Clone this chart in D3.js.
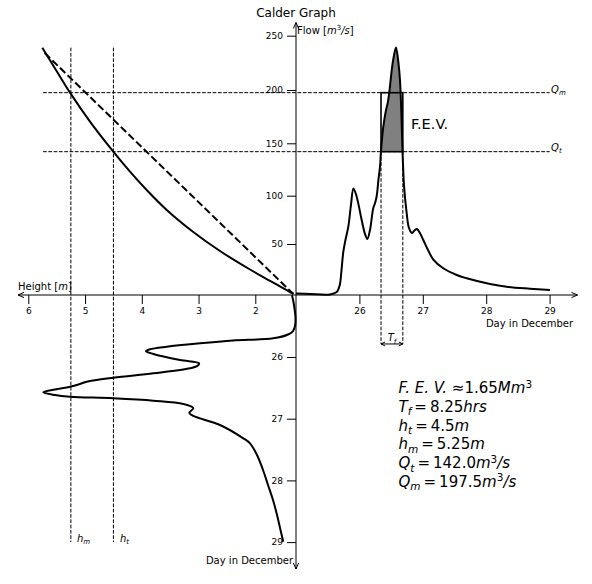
<!DOCTYPE html>
<html><head><meta charset="utf-8">
<script src="https://cdn.jsdelivr.net/npm/d3@7"></script>
<style>
html,body{margin:0;padding:0;background:#fff;}
svg{display:block;font-family:"DejaVu Sans",sans-serif;}
</style></head><body>
<svg id="c" width="592" height="584"></svg>
<script>
// ---------- data ----------
const hydroDay = [25.0, 25.22, 25.536, 25.642, 25.67, 25.694, 25.718, 25.746, 25.78, 25.825, 25.867, 25.906, 25.957, 26.036, 26.088, 26.125, 26.167, 26.219, 26.246, 26.273, 26.30, 26.325, 26.341, 26.377, 26.42, 26.443, 26.472, 26.51, 26.538, 26.577, 26.614, 26.64, 26.66, 26.677, 26.688, 26.703, 26.746, 26.782, 26.83, 26.87, 26.908, 26.956, 27.008, 27.082, 27.166, 27.323, 27.535, 27.692, 28.06, 28.323, 28.69, 29.006];
const hydroFlow = [1.5, 1.0, 0.5, 2.9, 5.9, 10.8, 24.5, 42.2, 54.1, 67.9, 90.4, 106.9, 99.0, 74.8, 60.4, 55.2, 64.5, 87.3, 92.1, 99.7, 115.0, 127.7, 142.9, 165.6, 181.2, 186.9, 198.1, 218.4, 229.5, 239.2, 225.8, 209.2, 181.2, 147.5, 129.5, 110.2, 81.7, 66.6, 61.4, 64.0, 65.6, 61.1, 54.1, 44.1, 34.8, 26.2, 19.6, 16.4, 10.8, 8.1, 6.2, 4.9];

const ratingH = [5.753, 5.512, 5.265, 4.913, 4.502, 4.208, 3.914, 3.561, 3.093, 2.622, 2.093, 1.741, 1.389, 1.327];
const ratingQ = [238.9, 218.4, 197.5, 170.3, 142.0, 122.9, 105.4, 85.2, 62.4, 43.1, 25.0, 13.9, 2.9, 1.2];

const ratingLineH = [5.71, 1.33];
const ratingLineQ = [234, 1.0];

const stageDay = [25.0, 25.157, 25.368, 25.498, 25.579, 25.635, 25.697, 25.733, 25.778, 25.833, 25.875, 25.906, 25.951, 26.049, 26.102, 26.138, 26.183, 26.264, 26.335, 26.40, 26.438, 26.481, 26.527, 26.572, 26.616, 26.643, 26.669, 26.708, 26.762, 26.831, 26.903, 26.956, 27.102, 27.318, 27.399, 27.588, 27.831, 28.074, 28.318, 28.561, 28.804, 28.994];
const stageH = [1.353, 1.318, 1.292, 1.30, 1.336, 1.424, 1.683, 2.393, 2.974, 3.561, 3.856, 3.926, 3.797, 3.327, 2.992, 3.01, 3.151, 3.797, 4.502, 4.971, 5.089, 5.265, 5.53, 5.736, 5.53, 5.265, 4.502, 3.797, 3.269, 3.092, 3.163, 3.092, 2.622, 2.211, 2.093, 1.970, 1.864, 1.776, 1.688, 1.617, 1.556, 1.507];

const flowTicks = [50, 100, 150, 200, 250];
const dayTicks = [26, 27, 28, 29];
const heightTicks = [2, 3, 4, 5, 6];

const Qt = 142.0, Qm = 197.5, ht = 4.5, hm = 5.25;
const tStart = 26.341, TfHours = 8.25;
const tfArrowFlow = -48;
const dayEnd = 29.0, hMax = 5.74, qMax = 239;

// ---------- scales ----------
const xDay = d3.scaleLinear().domain([25, 29]).range([296, 549.6]);
const yFlow = d3.scaleLinear().domain([0, 50, 100, 150, 200, 250]).range([295, 244, 195.7, 143.3, 90, 35.7]);
const xHeight = d3.scaleLinear().domain([2, 6]).range([255.3, 28.3]);
const yDay = d3.scaleLinear().domain([25, 29]).range([295.3, 542.1]);

const svg = d3.select('#c');
const ox = xDay(25), oy = yFlow(0);
const curve = d3.curveCatmullRom.alpha(0.5);

const hydro = hydroDay.map((d, i) => ({d, q: hydroFlow[i]}));
const rating = ratingH.map((h, i) => ({h, q: ratingQ[i]}));
const ratingLine = ratingLineH.map((h, i) => ({h, q: ratingLineQ[i]}));
const stage = stageDay.map((d, i) => ({d, h: stageH[i]}));

const tEnd = tStart + TfHours / 24;

// ---------- FEV fill ----------
svg.append('clipPath').attr('id', 'aboveQt').append('rect')
  .attr('x', 0).attr('y', 0).attr('width', 592).attr('height', yFlow(Qt));
svg.append('path').datum(hydro)
  .attr('clip-path', 'url(#aboveQt)')
  .attr('fill', '#808080')
  .attr('d', d3.area().x(p => xDay(p.d)).y0(yFlow(Qt)).y1(p => yFlow(p.q)).curve(curve));

// ---------- dashed guide lines ----------
const thinDash = '3.7,1.6';
function dline(x1, y1, x2, y2) {
  svg.append('line').attr('x1', x1).attr('y1', y1).attr('x2', x2).attr('y2', y2)
    .attr('stroke', '#000').attr('stroke-width', 1).attr('stroke-dasharray', thinDash);
}
dline(xHeight(hMax), yFlow(Qm), xDay(dayEnd), yFlow(Qm));
dline(xHeight(hMax), yFlow(Qt), xDay(dayEnd), yFlow(Qt));
dline(xHeight(hm), yFlow(qMax), xHeight(hm), yDay(dayEnd));
dline(xHeight(ht), yFlow(qMax), xHeight(ht), yDay(dayEnd));
dline(xDay(tStart), yFlow(Qt), xDay(tStart), yFlow(tfArrowFlow));
dline(xDay(tEnd), yFlow(Qt), xDay(tEnd), yFlow(tfArrowFlow));

// FEV rectangle
svg.append('rect')
  .attr('x', xDay(tStart)).attr('y', yFlow(Qm))
  .attr('width', xDay(tEnd) - xDay(tStart)).attr('height', yFlow(Qt) - yFlow(Qm))
  .attr('fill', 'none').attr('stroke', '#000').attr('stroke-width', 1.6);

// ---------- curves ----------
svg.append('path').datum(ratingLine)
  .attr('fill', 'none').attr('stroke', '#000').attr('stroke-width', 2).attr('stroke-dasharray', '7.4,3.2')
  .attr('d', d3.line().x(p => xHeight(p.h)).y(p => yFlow(p.q)));
svg.append('path').datum(rating)
  .attr('fill', 'none').attr('stroke', '#000').attr('stroke-width', 2)
  .attr('d', d3.line().x(p => xHeight(p.h)).y(p => yFlow(p.q)).curve(curve));
svg.append('path').datum(hydro)
  .attr('fill', 'none').attr('stroke', '#000').attr('stroke-width', 2).attr('stroke-linejoin', 'round')
  .attr('d', d3.line().x(p => xDay(p.d)).y(p => yFlow(p.q)).curve(curve));
svg.append('path').datum(stage)
  .attr('fill', 'none').attr('stroke', '#000').attr('stroke-width', 2).attr('stroke-linejoin', 'round')
  .attr('d', d3.line().x(p => xHeight(p.h)).y(p => yDay(p.d)).curve(curve));

// ---------- axes ----------
function styleAxis(g) {
  g.select('.domain').remove();
  g.selectAll('.tick line').attr('stroke', '#000').attr('stroke-width', 1);
  g.selectAll('.tick text').attr('fill', '#000').attr('font-size', 9).attr('font-family', '"DejaVu Sans",sans-serif');
  g.attr('font-family', null).attr('font-size', null);
}
svg.append('g').attr('transform', `translate(0,${oy})`)
  .call(d3.axisBottom(xDay).tickValues(dayTicks).tickSize(9).tickPadding(4).tickFormat(d3.format('d'))).call(styleAxis);
svg.append('g').attr('transform', `translate(0,${oy})`)
  .call(d3.axisBottom(xHeight).tickValues(heightTicks).tickSize(9).tickPadding(4).tickFormat(d3.format('d'))).call(styleAxis);
svg.append('g').attr('transform', `translate(${ox},0)`)
  .call(d3.axisLeft(yFlow).tickValues(flowTicks).tickSize(9).tickPadding(4).tickFormat(d3.format('d'))).call(styleAxis);
svg.append('g').attr('transform', `translate(${ox},0)`)
  .call(d3.axisLeft(yDay).tickValues(dayTicks).tickSize(9).tickPadding(4).tickFormat(d3.format('d'))).call(styleAxis);

// main axis lines with arrows
const axL = 18, axR = 577.5, axT = 22.5, axB = 569;
svg.append('line').attr('x1', axL).attr('y1', oy).attr('x2', axR).attr('y2', oy).attr('stroke', '#000').attr('stroke-width', 1);
svg.append('line').attr('x1', ox).attr('y1', axT).attr('x2', ox).attr('y2', axB).attr('stroke', '#000').attr('stroke-width', 1);
function chevron(x, y, dx, dy, len, w) {
  const px = -dy, py = dx;
  svg.append('path')
    .attr('d', `M${x - dx * len + px * w},${y - dy * len + py * w}L${x},${y}L${x - dx * len - px * w},${y - dy * len - py * w}`)
    .attr('fill', 'none').attr('stroke', '#000').attr('stroke-width', 1);
}
chevron(axR, oy, 1, 0, 6, 2.6);
chevron(axL, oy, -1, 0, 6, 2.6);
chevron(ox, axT, 0, -1, 6, 2.6);
chevron(ox, axB, 0, 1, 6, 2.6);

// Tf arrow
const ay = yFlow(tfArrowFlow);
svg.append('line').attr('x1', xDay(tStart)).attr('y1', ay).attr('x2', xDay(tEnd)).attr('y2', ay).attr('stroke', '#000').attr('stroke-width', 1);
chevron(xDay(tStart), ay, -1, 0, 4, 2);
chevron(xDay(tEnd), ay, 1, 0, 4, 2);

// ---------- text ----------
function mtext(x, y, size, parts, anchor) {
  const t = svg.append('text').attr('x', x).attr('y', y).attr('font-size', size)
    .attr('text-anchor', anchor || 'start').attr('fill', '#000');
  let cur = 0;
  parts.forEach(p => {
    const off = p.sub ? size * 0.22 : p.sup ? -size * 0.38 : 0;
    const ts = t.append('tspan').text(p.s);
    if (off !== cur) { ts.attr('dy', off - cur); cur = off; }
    if (p.i) ts.attr('font-style', 'italic');
    if (p.sub || p.sup) ts.attr('font-size', size * 0.7);
    if (p.dx) ts.attr('dx', p.dx);
  });
  return t;
}

svg.append('text').attr('x', 296).attr('y', 17).attr('text-anchor', 'middle').attr('font-size', 12).text('Calder Graph');
mtext(297, 34, 10, [{s: 'Flow ['}, {s: 'm', i: 1}, {s: '3', sup: 1}, {s: '/', i: 1}, {s: 's', i: 1}, {s: ']'}]);
mtext(18, 290, 10, [{s: 'Height ['}, {s: 'm', i: 1}, {s: ']'}]);
svg.append('text').attr('x', 573).attr('y', 326.5).attr('text-anchor', 'end').attr('font-size', 10).text('Day in December');
svg.append('text').attr('x', 293).attr('y', 563.5).attr('text-anchor', 'end').attr('font-size', 10).text('Day in December');

mtext(551, 92.5, 10, [{s: 'Q', i: 1}, {s: 'm', i: 1, sub: 1}]);
mtext(551, 150.5, 10, [{s: 'Q', i: 1}, {s: 't', i: 1, sub: 1}]);
mtext(77, 541.5, 10, [{s: 'h', i: 1}, {s: 'm', i: 1, sub: 1}]);
mtext(120, 541.5, 10, [{s: 'h', i: 1}, {s: 't', i: 1, sub: 1}]);
mtext((xDay(tStart) + xDay(tEnd)) / 2, ay - 2.5, 10, [{s: 'T', i: 1}, {s: 'f', i: 1, sub: 1}], 'middle');

svg.append('text').attr('x', 411).attr('y', 128.5).attr('font-size', 14.5).text('F.E.V.');

const th = '\u2009';
const fs = 15, lx = 398.5;
mtext(lx, 393.3, fs, [{s: 'F. E. V. ', i: 1}, {s: '\u2248'}, {s: '1.65'}, {s: 'Mm', i: 1}, {s: '3', sup: 1}]);
mtext(lx, 412, fs, [{s: 'T', i: 1}, {s: 'f', i: 1, sub: 1}, {s: th + '=' + th}, {s: '8.25'}, {s: 'hrs', i: 1}]);
mtext(lx, 430.7, fs, [{s: 'h', i: 1}, {s: 't', i: 1, sub: 1}, {s: th + '=' + th}, {s: '4.5'}, {s: 'm', i: 1}]);
mtext(lx, 449.3, fs, [{s: 'h', i: 1}, {s: 'm', i: 1, sub: 1}, {s: th + '=' + th}, {s: '5.25'}, {s: 'm', i: 1}]);
mtext(lx, 468.3, fs, [{s: 'Q', i: 1}, {s: 't', i: 1, sub: 1}, {s: th + '=' + th}, {s: '142.0'}, {s: 'm', i: 1}, {s: '3', sup: 1}, {s: '/', i: 1}, {s: 's', i: 1}]);
mtext(lx, 486.7, fs, [{s: 'Q', i: 1}, {s: 'm', i: 1, sub: 1}, {s: th + '=' + th}, {s: '197.5'}, {s: 'm', i: 1}, {s: '3', sup: 1}, {s: '/', i: 1}, {s: 's', i: 1}]);
</script>
</body></html>
